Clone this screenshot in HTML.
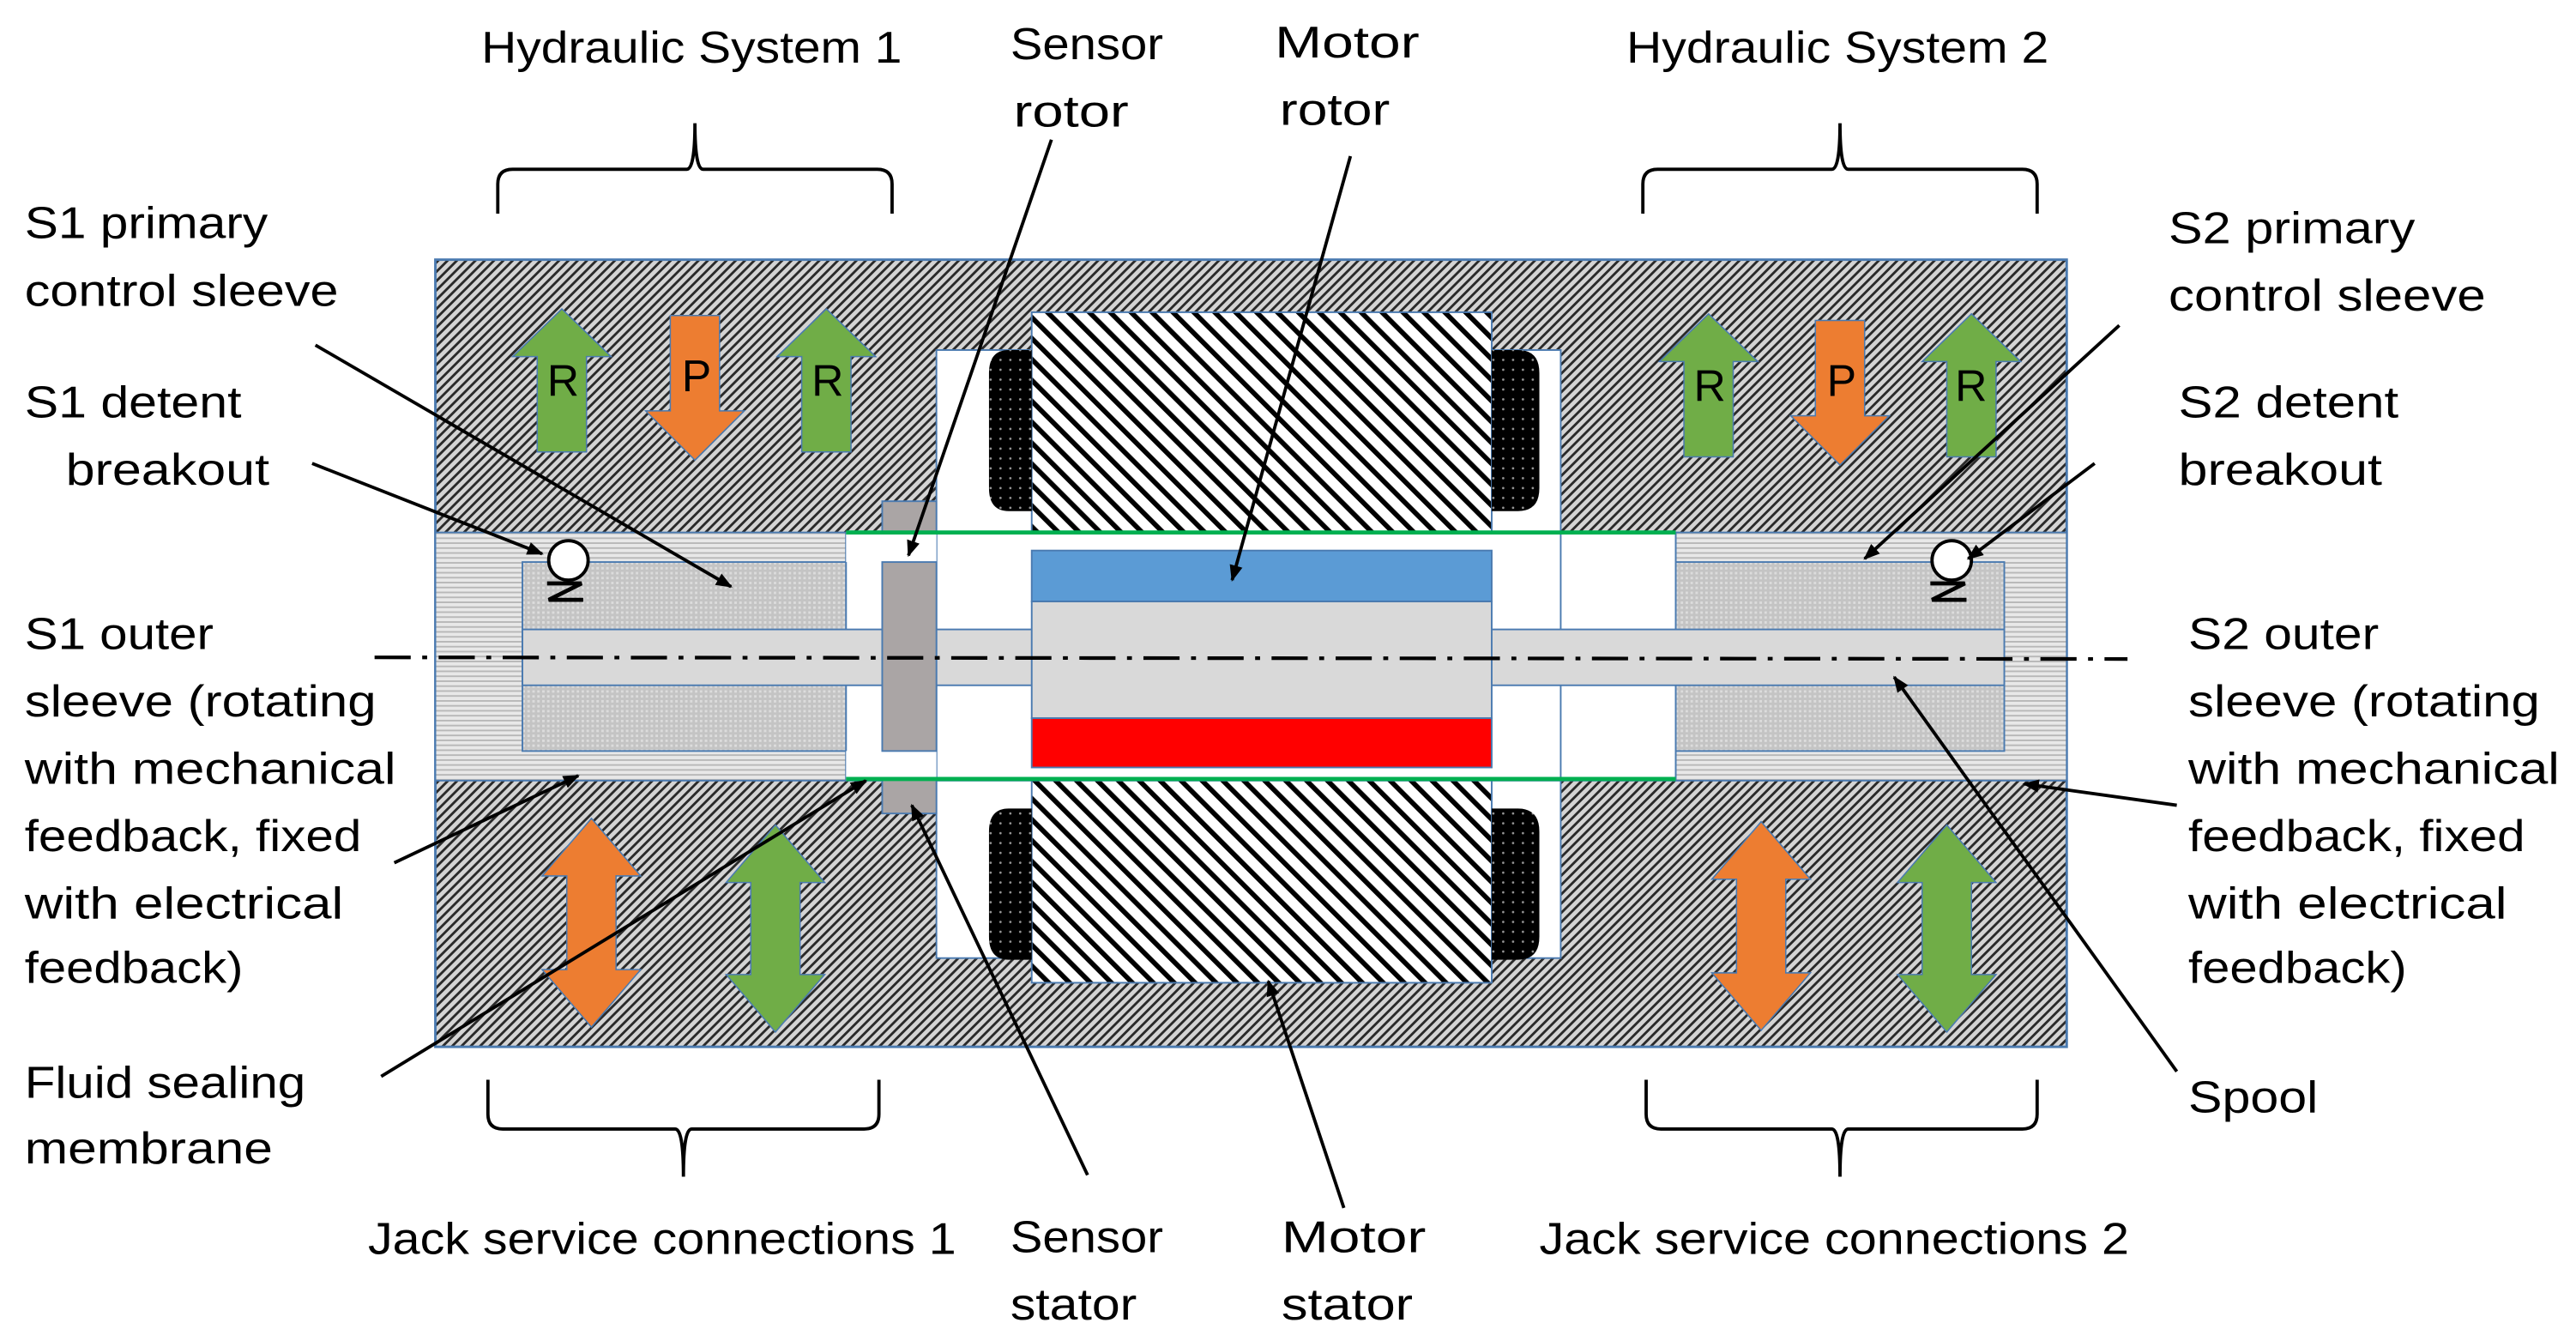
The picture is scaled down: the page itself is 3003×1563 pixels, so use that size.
<!DOCTYPE html>
<html><head><meta charset="utf-8"><style>
html,body{margin:0;padding:0;background:#fff;}
svg{display:block;}
text{font-family:"Liberation Sans",sans-serif;font-size:27px;fill:#000;}
</style></head><body>
<svg width="3003" height="1563" viewBox="0 0 1568 816" preserveAspectRatio="none" xmlns="http://www.w3.org/2000/svg">
<defs>
<pattern id="hous" width="4" height="4" patternUnits="userSpaceOnUse" patternTransform="rotate(45)">
<rect width="4" height="4" fill="#d4d4d4"/><rect width="1.5" height="4" fill="#2a2a2a"/></pattern>
<pattern id="stat" width="9" height="9" patternUnits="userSpaceOnUse" patternTransform="rotate(-45)">
<rect width="9" height="9" fill="#fff"/><rect width="3" height="9" fill="#000"/></pattern>
<pattern id="hstr" width="4" height="3" patternUnits="userSpaceOnUse">
<rect width="4" height="3" fill="#e8e8e8"/><rect width="4" height="1" fill="#b8b8b8"/></pattern>
<pattern id="dot" width="3" height="3" patternUnits="userSpaceOnUse">
<rect width="3" height="3" fill="#c4c4c4"/><rect width="1.5" height="1.5" fill="#dcdcdc"/></pattern>
<pattern id="coil" width="6" height="6" patternUnits="userSpaceOnUse">
<rect width="6" height="6" fill="#000"/><circle cx="3" cy="3" r="0.7" fill="#999"/></pattern>
<marker id="ah" markerWidth="10" markerHeight="10" refX="9" refY="5" orient="auto" markerUnits="userSpaceOnUse">
<path d="M0,1 L10,5 L0,9 Z" fill="#000"/></marker>
</defs>

<rect x="265" y="158" width="993" height="479" fill="url(#hous)" stroke="#4a7ab0" stroke-width="1.5"/>

<rect x="265" y="324" width="250" height="151" fill="url(#hstr)" stroke="#4a7ab0" stroke-width="1"/>
<rect x="318" y="342" width="197" height="115" fill="url(#dot)" stroke="#4a7ab0" stroke-width="1"/>
<rect x="1020" y="324" width="238" height="151" fill="url(#hstr)" stroke="#4a7ab0" stroke-width="1"/>
<rect x="1020" y="342" width="200" height="115" fill="url(#dot)" stroke="#4a7ab0" stroke-width="1"/>

<rect x="570" y="213" width="380" height="370" fill="#fff" stroke="#4a7ab0" stroke-width="1"/>
<rect x="515" y="324" width="505" height="151" fill="#fff" stroke="#4a7ab0" stroke-width="1"/>
<line x1="950" y1="324" x2="950" y2="475" stroke="#4a7ab0" stroke-width="1"/>
<line x1="570" y1="324" x2="570" y2="475" stroke="#4a7ab0" stroke-width="1"/>

<rect x="628" y="190" width="280" height="134" fill="url(#stat)" stroke="#4a7ab0" stroke-width="1"/>
<rect x="628" y="475" width="280" height="123" fill="url(#stat)" stroke="#4a7ab0" stroke-width="1"/>
<path d="M628,213 V311 H614 Q602,311 602,297 V227 Q602,213 614,213 Z" fill="url(#coil)"/>
<path d="M908,213 V311 H924 Q937,311 937,297 V227 Q937,213 924,213 Z" fill="url(#coil)"/>
<path d="M628,492 V584 H614 Q602,584 602,570 V506 Q602,492 614,492 Z" fill="url(#coil)"/>
<path d="M908,492 V584 H924 Q937,584 937,570 V506 Q937,492 924,492 Z" fill="url(#coil)"/>

<rect x="318" y="383" width="902" height="34" fill="#d9d9d9" stroke="#4a7ab0" stroke-width="1"/>
<rect x="628" y="335" width="280" height="31" fill="#5b9bd5" stroke="#4a7ab0" stroke-width="1"/>
<rect x="628" y="366" width="280" height="71" fill="#d9d9d9" stroke="#4a7ab0" stroke-width="1"/>
<rect x="628" y="437" width="280" height="30" fill="#ff0000" stroke="#4a7ab0" stroke-width="1"/>

<rect x="537" y="305" width="33" height="190" fill="#aaa5a5" stroke="#4a7ab0" stroke-width="1"/>
<rect x="515" y="324" width="55" height="18" fill="#fff"/>
<rect x="515" y="457" width="55" height="18" fill="#fff"/>
<rect x="537" y="342" width="33" height="115" fill="#aaa5a5" stroke="#4a7ab0" stroke-width="1"/>
<line x1="515" y1="324" x2="1020" y2="324" stroke="#00b050" stroke-width="2.5"/>
<line x1="515" y1="474" x2="1020" y2="474" stroke="#00b050" stroke-width="2.5"/>

<circle cx="346" cy="341" r="12" fill="#fff" stroke="#000" stroke-width="2"/>
<path d="M333,355 H354 L334,365 H355" fill="none" stroke="#000" stroke-width="2.5"/>
<circle cx="1188" cy="341" r="12" fill="#fff" stroke="#000" stroke-width="2"/>
<path d="M1175,355 H1196 L1176,365 H1197" fill="none" stroke="#000" stroke-width="2.5"/>

<line x1="228" y1="400" x2="1295" y2="401" stroke="#000" stroke-width="2.2" stroke-dasharray="22,7,3,7"/>

<g stroke="#4a7ab0" stroke-width="0.8">
<path d="M327,275 V217 H312 L342,188 L372,217 H357 V275 Z" fill="#70ad47"/>
<path d="M408,192 V250 H393 L423,280 L453,250 H438 V192 Z" fill="#ed7d31"/>
<path d="M488,275 V217 H473 L503,188 L533,217 H518 V275 Z" fill="#70ad47"/>
<path d="M1025,278 V220 H1010 L1040,191 L1070,220 H1055 V278 Z" fill="#70ad47"/>
<path d="M1105,195 V253 H1090 L1120,283 L1150,253 H1135 V195 Z" fill="#ed7d31"/>
<path d="M1185,278 V220 H1170 L1200,191 L1230,220 H1215 V278 Z" fill="#70ad47"/>
<path d="M360,498 L390,533 H375 V590 H390 L360,625 L330,590 H345 V533 H330 Z" fill="#ed7d31"/>
<path d="M472,502 L502,537 H487 V593 H502 L472,628 L442,593 H457 V537 H442 Z" fill="#70ad47"/>
<path d="M1072,500 L1102,535 H1087 V592 H1102 L1072,627 L1042,592 H1057 V535 H1042 Z" fill="#ed7d31"/>
<path d="M1185,502 L1215,537 H1200 V593 H1215 L1185,628 L1155,593 H1170 V537 H1155 Z" fill="#70ad47"/>
</g>
<g style="font-size:24px">
<text x="333" y="241">R</text><text x="415" y="238">P</text><text x="494" y="241">R</text>
<text x="1031" y="244">R</text><text x="1112" y="241">P</text><text x="1190" y="244">R</text>
</g>

<g fill="none" stroke="#000" stroke-width="2">
<path d="M303,130 V112 Q303,103 312,103 H418 Q423,103 423,75 Q423,103 428,103 H534 Q543,103 543,112 V130"/>
<path d="M1000,130 V112 Q1000,103 1009,103 H1115 Q1120,103 1120,75 Q1120,103 1125,103 H1231 Q1240,103 1240,112 V130"/>
<path d="M297,657 V678 Q297,687 306,687 H411 Q416,687 416,716 Q416,687 421,687 H526 Q535,687 535,678 V657"/>
<path d="M1002,657 V678 Q1002,687 1011,687 H1115 Q1120,687 1120,716 Q1120,687 1125,687 H1231 Q1240,687 1240,678 V657"/>
</g>

<g stroke="#000" stroke-width="2" marker-end="url(#ah)">
<line x1="192" y1="210" x2="445" y2="357"/>
<line x1="190" y1="282" x2="330" y2="337"/>
<line x1="240" y1="525" x2="352" y2="472"/>
<line x1="232" y1="655" x2="527" y2="475"/>
<line x1="640" y1="85" x2="553" y2="338"/>
<line x1="822" y1="95" x2="750" y2="353"/>
<line x1="662" y1="715" x2="555" y2="490"/>
<line x1="818" y1="735" x2="772" y2="597"/>
<line x1="1290" y1="198" x2="1135" y2="340"/>
<line x1="1275" y1="282" x2="1198" y2="340"/>
<line x1="1325" y1="490" x2="1232" y2="477"/>
<line x1="1325" y1="652" x2="1153" y2="412"/>
</g>

<text x="293" y="38" textLength="256" lengthAdjust="spacingAndGlyphs">Hydraulic System 1</text>
<text x="615" y="36" textLength="93" lengthAdjust="spacingAndGlyphs">Sensor</text>
<text x="617" y="77" textLength="70" lengthAdjust="spacingAndGlyphs">rotor</text>
<text x="776" y="35" textLength="88" lengthAdjust="spacingAndGlyphs">Motor</text>
<text x="779" y="76" textLength="67" lengthAdjust="spacingAndGlyphs">rotor</text>
<text x="990" y="38" textLength="257" lengthAdjust="spacingAndGlyphs">Hydraulic System 2</text>

<text x="15" y="145" textLength="148" lengthAdjust="spacingAndGlyphs">S1 primary</text>
<text x="15" y="186" textLength="191" lengthAdjust="spacingAndGlyphs">control sleeve</text>
<text x="15" y="254" textLength="132" lengthAdjust="spacingAndGlyphs">S1 detent</text>
<text x="40" y="295" textLength="124" lengthAdjust="spacingAndGlyphs">breakout</text>
<text x="15" y="395" textLength="115" lengthAdjust="spacingAndGlyphs">S1 outer</text>
<text x="15" y="436" textLength="214" lengthAdjust="spacingAndGlyphs">sleeve (rotating</text>
<text x="15" y="477" textLength="226" lengthAdjust="spacingAndGlyphs">with mechanical</text>
<text x="15" y="518" textLength="205" lengthAdjust="spacingAndGlyphs">feedback, fixed</text>
<text x="15" y="559" textLength="194" lengthAdjust="spacingAndGlyphs">with electrical</text>
<text x="15" y="598" textLength="133" lengthAdjust="spacingAndGlyphs">feedback)</text>
<text x="15" y="668" textLength="171" lengthAdjust="spacingAndGlyphs">Fluid sealing</text>
<text x="15" y="708" textLength="151" lengthAdjust="spacingAndGlyphs">membrane</text>

<text x="224" y="763" textLength="358" lengthAdjust="spacingAndGlyphs">Jack service connections 1</text>
<text x="615" y="762" textLength="93" lengthAdjust="spacingAndGlyphs">Sensor</text>
<text x="615" y="803" textLength="77" lengthAdjust="spacingAndGlyphs">stator</text>
<text x="780" y="762" textLength="88" lengthAdjust="spacingAndGlyphs">Motor</text>
<text x="780" y="803" textLength="80" lengthAdjust="spacingAndGlyphs">stator</text>
<text x="937" y="763" textLength="359" lengthAdjust="spacingAndGlyphs">Jack service connections 2</text>

<text x="1320" y="148" textLength="150" lengthAdjust="spacingAndGlyphs">S2 primary</text>
<text x="1320" y="189" textLength="193" lengthAdjust="spacingAndGlyphs">control sleeve</text>
<text x="1326" y="254" textLength="134" lengthAdjust="spacingAndGlyphs">S2 detent</text>
<text x="1326" y="295" textLength="124" lengthAdjust="spacingAndGlyphs">breakout</text>
<text x="1332" y="395" textLength="116" lengthAdjust="spacingAndGlyphs">S2 outer</text>
<text x="1332" y="436" textLength="214" lengthAdjust="spacingAndGlyphs">sleeve (rotating</text>
<text x="1332" y="477" textLength="226" lengthAdjust="spacingAndGlyphs">with mechanical</text>
<text x="1332" y="518" textLength="205" lengthAdjust="spacingAndGlyphs">feedback, fixed</text>
<text x="1332" y="559" textLength="194" lengthAdjust="spacingAndGlyphs">with electrical</text>
<text x="1332" y="598" textLength="133" lengthAdjust="spacingAndGlyphs">feedback)</text>
<text x="1332" y="677" textLength="79" lengthAdjust="spacingAndGlyphs">Spool</text>
</svg>
</body></html>
